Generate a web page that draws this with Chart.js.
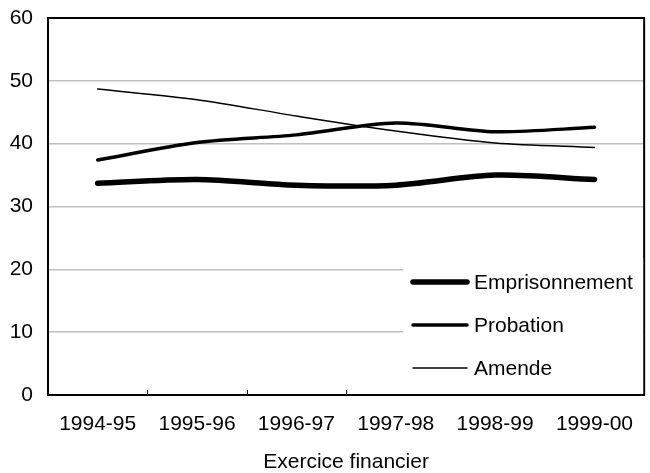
<!DOCTYPE html>
<html>
<head>
<meta charset="utf-8">
<script src="https://cdn.jsdelivr.net/npm/chart.js@4"></script>
<style>
  html, body { margin: 0; padding: 0; background: #fff; }
  #chart { display: block; }
</style>
</head>
<body>
<canvas id="chart" width="650" height="473"></canvas>
<script>
// categories and series
const categories = ['1994-95', '1995-96', '1996-97', '1997-98', '1998-99', '1999-00'];
const emprisonnement = [33.7, 34.3, 33.4, 33.4, 35.0, 34.3];
const probation = [37.4, 40.2, 41.4, 43.3, 41.9, 42.6];
const amende = [48.7, 47.0, 44.4, 42.0, 40.1, 39.4];
const yTicks = [0, 10, 20, 30, 40, 50, 60];

const FONT = { family: '"Liberation Sans", Arial, sans-serif', size: 21 };

function line(label, data, width) {
  return {
    label, data,
    borderColor: '#000', backgroundColor: '#000',
    borderWidth: width, pointRadius: 0, tension: 0.3,
    borderCapStyle: 'round', borderJoinStyle: 'round', fill: false
  };
}

// frame, inner tick marks on the category axis, and the in-plot legend
const framePlugin = {
  id: 'frame',
  afterDraw(chart) {
    const { ctx, chartArea: a, scales: { x } } = chart;
    ctx.save();
    ctx.strokeStyle = '#000';
    ctx.lineWidth = 2;
    ctx.strokeRect(a.left, a.top, a.right - a.left, a.bottom - a.top);

    ctx.lineWidth = 1;
    for (let i = 0; i < categories.length - 1; i++) {
      const bx = Math.round((x.getPixelForValue(i) + x.getPixelForValue(i + 1)) / 2) + 0.5;
      ctx.beginPath();
      ctx.moveTo(bx, a.bottom);
      ctx.lineTo(bx, a.bottom - 5);
      ctx.stroke();
    }

    // legend box
    ctx.fillStyle = '#fff';
    ctx.fillRect(403, 258, a.right - 1 - 403, a.bottom - 1 - 258);
    ctx.font = FONT.size + 'px ' + FONT.family;
    ctx.textBaseline = 'middle';
    ctx.textAlign = 'left';
    ctx.fillStyle = '#000';
    const rows = [282, 325, 368];
    chart.data.datasets.forEach((ds, i) => {
      const y = rows[i];
      ctx.beginPath();
      ctx.lineWidth = ds.borderWidth;
      ctx.lineCap = 'round';
      ctx.moveTo(413, y);
      ctx.lineTo(467, y);
      ctx.stroke();
      ctx.fillText(ds.label, 474, y + 1);
    });
    ctx.restore();
  }
};

new Chart(document.getElementById('chart'), {
  type: 'line',
  data: {
    labels: categories,
    datasets: [
      line('Emprisonnement', emprisonnement, 5.5),
      line('Probation', probation, 3.5),
      line('Amende', amende, 1.5)
    ]
  },
  options: {
    responsive: false,
    devicePixelRatio: 1,
    animation: false,
    layout: { padding: { left: 0, top: 18, right: 0, bottom: 0 } },
    plugins: { legend: { display: false }, tooltip: { enabled: false } },
    scales: {
      x: {
        offset: true,
        grid: { display: false, drawTicks: false },
        border: { display: false },
        afterFit: axis => { axis.height = 78; },
        ticks: { color: '#000', font: FONT, padding: 17, maxRotation: 0 },
        title: { display: true, text: 'Exercice financier', color: '#000', font: FONT, padding: { top: 11, bottom: -2 } }
      },
      y: {
        min: 0, max: 60,
        afterBuildTicks: axis => { axis.ticks = yTicks.map(v => ({ value: v })); },
        afterFit: axis => { axis.width = 48; axis.paddingTop = 0; axis.paddingBottom = 0; },
        grid: { color: '#c0c0c0', lineWidth: 1.6, drawTicks: false },
        border: { display: false },
        ticks: { color: '#000', font: FONT, padding: 15 }
      }
    }
  },
  plugins: [framePlugin]
});
</script>
</body>
</html>
